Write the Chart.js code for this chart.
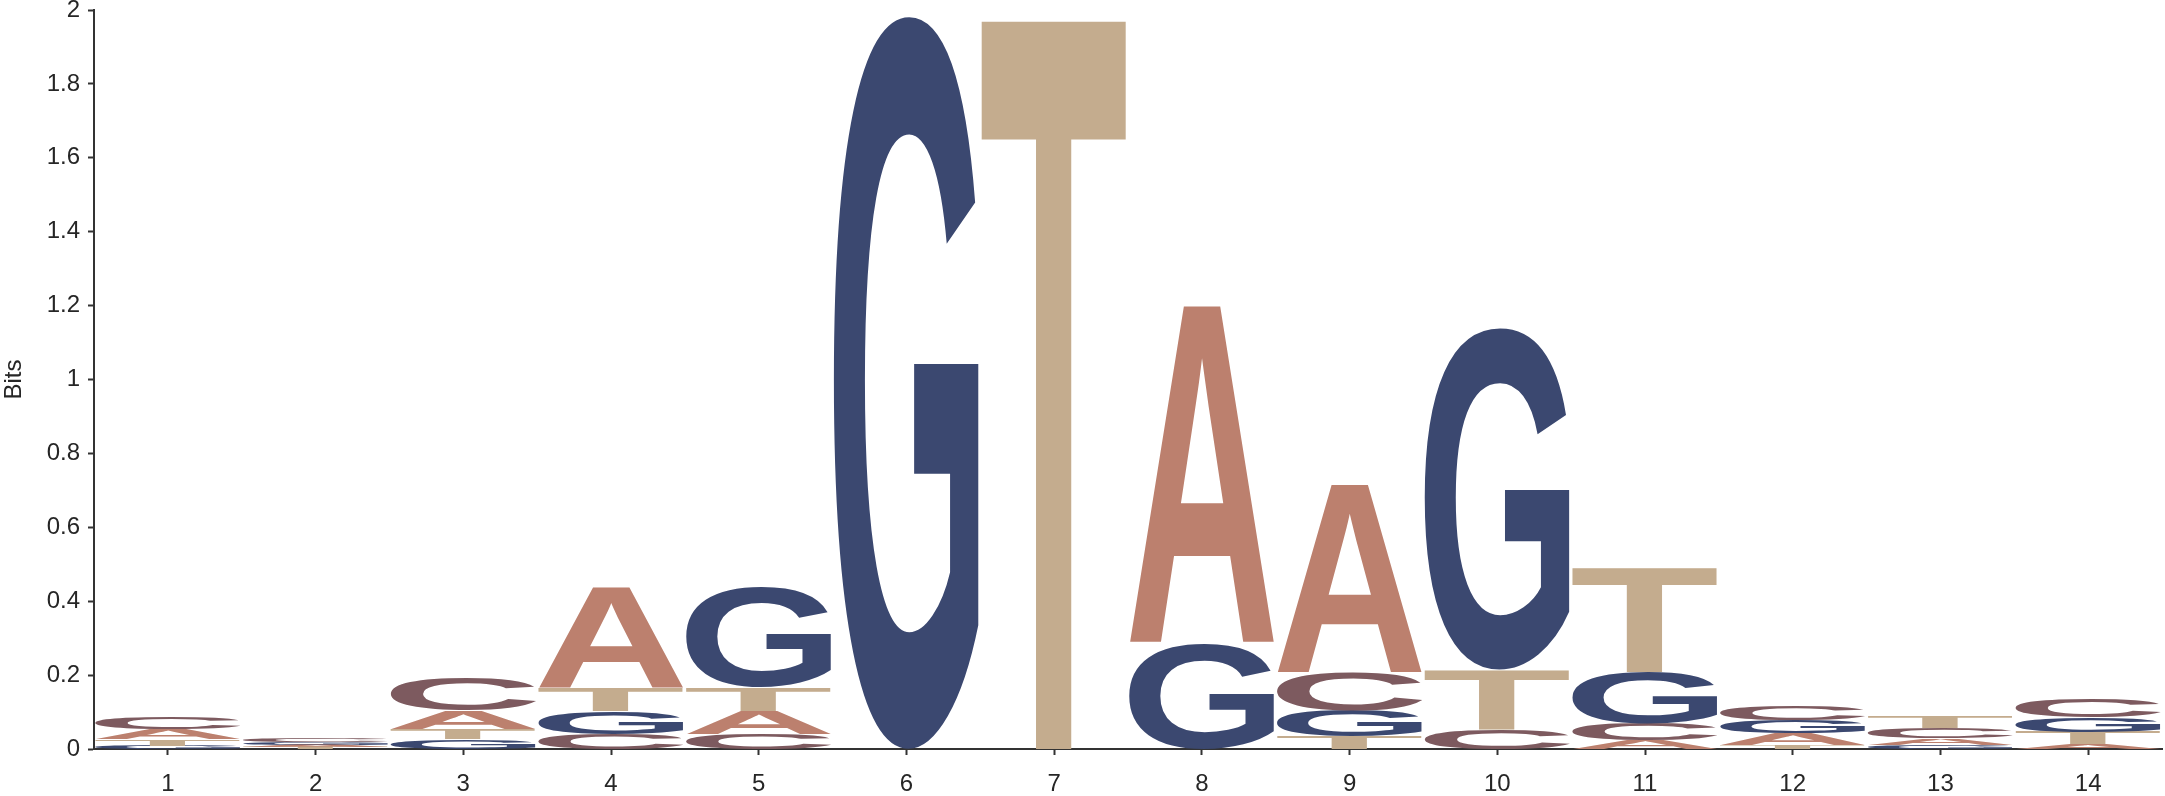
<!DOCTYPE html>
<html>
<head>
<meta charset="utf-8">
<script src="https://cdn.jsdelivr.net/npm/chart.js@4"></script>
<style>
  html, body { margin: 0; padding: 0; background: #fff; }
  #logo { display: block; }
</style>
</head>
<body>
<canvas id="logo" width="2165" height="796"></canvas>
<script>
// positions along the motif
var positions = ['1', '2', '3', '4', '5', '6', '7', '8', '9', '10', '11', '12', '13', '14'];

// information (bits) carried by each base at each position
var bitsA = [0.028, 0.007, 0.050, 0.273, 0.062, 0, 0, 0.916, 0.511, 0, 0.024, 0.032, 0.018, 0.013];
var bitsC = [0.030, 0.009, 0.090, 0.041, 0.041, 0, 0, 0, 0.102, 0.053, 0.045, 0.037, 0.029, 0.051];
var bitsG = [0.009, 0.008, 0.026, 0.062, 0.270, 1.985, 0, 0.284, 0.070, 0.925, 0.140, 0.034, 0.011, 0.039];
var bitsT = [0.018, 0.005, 0.027, 0.063, 0.064, 0, 1.988, 0, 0.033, 0.162, 0.282, 0.011, 0.030, 0.033];

var yTicks = [0, 0.2, 0.4, 0.6, 0.8, 1, 1.2, 1.4, 1.6, 1.8, 2];
var yTickLabels = ['0', '0.2', '0.4', '0.6', '0.8', '1', '1.2', '1.4', '1.6', '1.8', '2'];

var letterColor = {
    A: '#bc806e',
    C: '#7d5a5f',
    G: '#3b4870',
    T: '#c4ac8e'
};

var letters = [
    { base: 'A', bits: bitsA },
    { base: 'C', bits: bitsC },
    { base: 'G', bits: bitsG },
    { base: 'T', bits: bitsT }
];

// draws one letter stretched to fill the box
function drawLetter(ctx, ch, left, top, w, h) {
    if (h <= 0.3) return;
    ctx.save();
    ctx.font = 'bold 200px "Liberation Sans", Arial, sans-serif';
    ctx.textAlign = 'left';
    ctx.textBaseline = 'alphabetic';
    var m = ctx.measureText(ch);
    var gw = m.actualBoundingBoxLeft + m.actualBoundingBoxRight;
    var gh = m.actualBoundingBoxAscent + m.actualBoundingBoxDescent;
    ctx.translate(left, top);
    ctx.scale(w / gw, h / gh);
    ctx.fillStyle = letterColor[ch];
    ctx.fillText(ch, m.actualBoundingBoxLeft, m.actualBoundingBoxAscent);
    ctx.restore();
}

var logoPlugin = {
    id: 'logoLetters',
    afterDatasetsDraw: function (chart) {
        var ctx = chart.ctx;
        var xs = chart.scales.x;
        var ys = chart.scales.y;
        var step = xs.getPixelForValue(1) - xs.getPixelForValue(0);
        var w = step * 0.985;

        for (var i = 0; i < positions.length; i++) {
            var stack = [];
            for (var k = 0; k < letters.length; k++) {
                if (letters[k].bits[i] > 0) {
                    stack.push({ base: letters[k].base, v: letters[k].bits[i] });
                }
            }
            stack.sort(function (a, b) { return a.v - b.v; });

            var cx = xs.getPixelForValue(i);
            var sum = 0;
            for (var j = 0; j < stack.length; j++) {
                var yBottom = ys.getPixelForValue(sum);
                sum += stack[j].v;
                var yTop = ys.getPixelForValue(sum);
                drawLetter(ctx, stack[j].base, cx - w / 2, yTop, w, yBottom - yTop);
            }
        }
    }
};

var tickFont = { family: '"Liberation Sans", Arial, sans-serif', size: 24 };

new Chart(document.getElementById('logo'), {
    type: 'bar',
    data: {
        labels: positions,
        datasets: letters.map(function (l) {
            return {
                label: l.base,
                data: l.bits,
                backgroundColor: 'rgba(0,0,0,0)',
                borderWidth: 0
            };
        })
    },
    options: {
        responsive: false,
        animation: false,
        devicePixelRatio: 1,
        layout: { padding: { top: 10, right: 3, left: 0, bottom: 0 } },
        plugins: {
            legend: { display: false },
            tooltip: { enabled: false }
        },
        scales: {
            x: {
                stacked: true,
                offset: true,
                grid: {
                    offset: false,
                    drawOnChartArea: false,
                    drawTicks: true,
                    tickLength: 6,
                    tickWidth: 2,
                    color: '#333333'
                },
                border: { display: true, color: '#333333', width: 2 },
                ticks: { color: '#262626', font: tickFont, padding: 15, maxRotation: 0 },
                afterFit: function (s) {
                    s.height = 47;
                    s.paddingLeft = 0;
                    s.paddingRight = 0;
                }
            },
            y: {
                stacked: true,
                min: 0,
                max: 2,
                afterBuildTicks: function (s) {
                    s.ticks = yTicks.map(function (v) { return { value: v }; });
                },
                grid: {
                    drawOnChartArea: false,
                    drawTicks: true,
                    tickLength: 6,
                    tickWidth: 2,
                    color: '#333333'
                },
                border: { display: true, color: '#333333', width: 2 },
                ticks: {
                    color: '#262626',
                    font: tickFont,
                    padding: 8,
                    callback: function (v, idx) { return yTickLabels[idx]; }
                },
                title: {
                    display: true,
                    text: 'Bits',
                    color: '#262626',
                    font: tickFont,
                    padding: { top: 0, bottom: 6 }
                },
                afterFit: function (s) {
                    s.width = 94;
                    s.paddingTop = 0;
                    s.paddingBottom = 0;
                }
            }
        }
    },
    plugins: [logoPlugin]
});
</script>
</body>
</html>
